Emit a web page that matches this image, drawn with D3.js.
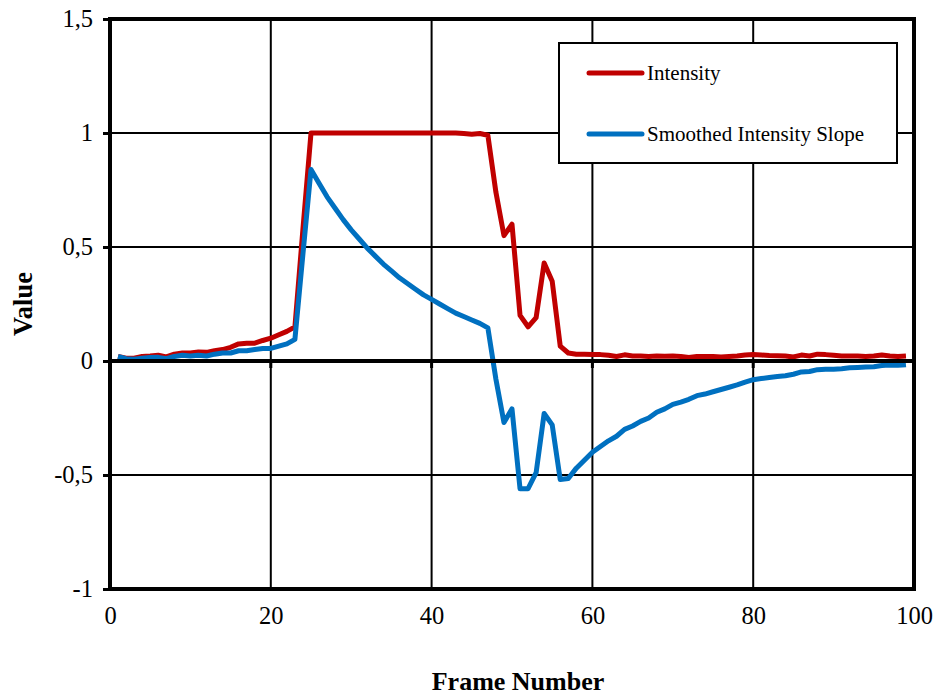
<!DOCTYPE html>
<html><head><meta charset="utf-8">
<script src="https://cdn.jsdelivr.net/npm/d3@7"></script>
<style>body{margin:0;background:#fff}svg{display:block}</style>
</head><body><svg id="c" width="937" height="698"></svg>
<script>
const FONT = '"Liberation Serif", serif';
const frames = d3.range(1, 100);
const intensity = [0.02,0.012,0.012,0.02,0.022,0.025,0.018,0.03,0.035,0.035,
0.04,0.038,0.045,0.05,0.06,0.075,0.078,0.078,0.09,0.1,
0.115,0.13,0.15,0.58,1.0,1.0,1.0,1.0,1.0,1.0,
1.0,1.0,1.0,1.0,1.0,1.0,1.0,1.0,1.0,1.0,
1.0,1.0,1.0,0.998,0.995,0.998,0.99,0.74,0.55,0.60,
0.20,0.15,0.19,0.43,0.35,0.065,0.035,0.03,0.03,0.028,
0.028,0.025,0.02,0.027,0.022,0.022,0.02,0.022,0.021,0.022,
0.02,0.015,0.02,0.02,0.02,0.018,0.02,0.022,0.026,0.028,
0.026,0.024,0.023,0.022,0.018,0.026,0.022,0.03,0.028,0.025,
0.022,0.022,0.022,0.02,0.022,0.026,0.022,0.02,0.022];
const slope = [0.02,0.01,0.008,0.012,0.015,0.016,0.01,0.02,0.025,0.022,
0.025,0.022,0.03,0.035,0.035,0.045,0.045,0.05,0.055,0.055,
0.065,0.075,0.095,0.47,0.84,0.78,0.72,0.67,0.62,0.575,
0.535,0.495,0.46,0.425,0.395,0.365,0.34,0.315,0.29,0.27,
0.25,0.23,0.21,0.195,0.18,0.165,0.145,-0.08,-0.27,-0.21,
-0.56,-0.56,-0.49,-0.23,-0.28,-0.52,-0.515,-0.47,-0.435,-0.40,
-0.375,-0.35,-0.33,-0.30,-0.285,-0.265,-0.25,-0.225,-0.21,-0.19,
-0.18,-0.168,-0.152,-0.145,-0.135,-0.125,-0.115,-0.105,-0.093,-0.082,
-0.077,-0.072,-0.068,-0.065,-0.058,-0.048,-0.046,-0.038,-0.036,-0.036,
-0.034,-0.03,-0.028,-0.026,-0.025,-0.02,-0.018,-0.019,-0.016];
const xTicks = [0,20,40,60,80,100];
const yTicks = [-1,-0.5,0,0.5,1,1.5];
const seriesNames = ["Intensity","Smoothed Intensity Slope"];
const seriesColors = ["#C00000","#0070C0"];

const svg = d3.select("#c");
const L=110,R=914,T=19,B=589;
const x = d3.scaleLinear().domain([0,100]).range([L,R]);
const y = d3.scaleLinear().domain([-1,1.5]).range([B,T]);
const fmt = v => String(v).replace(".", ",");

svg.append("g").selectAll("line").data(xTicks.slice(1,-1)).join("line")
  .attr("x1",d=>x(d)).attr("x2",d=>x(d)).attr("y1",T).attr("y2",B)
  .attr("stroke","#000").attr("stroke-width",2);
svg.append("g").selectAll("line").data(yTicks.filter(d=>d!==0&&d!==-1&&d!==1.5)).join("line")
  .attr("x1",L).attr("x2",R).attr("y1",d=>y(d)).attr("y2",d=>y(d))
  .attr("stroke","#000").attr("stroke-width",2);

const ya = svg.append("g").attr("transform",`translate(${L},0)`)
  .call(d3.axisLeft(y).tickValues(yTicks).tickFormat(fmt).tickSize(7).tickPadding(10));
ya.select(".domain").remove();
ya.selectAll("line").attr("stroke","#000").attr("stroke-width",3);
ya.selectAll("text").style("font-size","24.5px").attr("fill","#000").style("font-family",FONT);

const xa = svg.append("g").attr("transform",`translate(0,${B})`)
  .call(d3.axisBottom(x).tickValues(xTicks).tickSize(0).tickPadding(18));
xa.select(".domain").remove();
xa.selectAll("text").style("font-size","24.5px").attr("fill","#000").style("font-family",FONT);

svg.append("g").selectAll("line").data(xTicks).join("line")
  .attr("x1",d=>x(d)).attr("x2",d=>x(d)).attr("y1",y(0)).attr("y2",y(0)+7)
  .attr("stroke","#000").attr("stroke-width",3);

const line = d3.line().x((d,i)=>x(frames[i])).y(d=>y(d));
[intensity, slope].forEach((s,k)=>{
  svg.append("path").datum(s).attr("d",line).attr("fill","none")
    .attr("stroke",seriesColors[k]).attr("stroke-width",5).attr("stroke-linejoin","round");
});

svg.append("line").attr("x1",L).attr("x2",R).attr("y1",y(0)).attr("y2",y(0))
  .attr("stroke","#000").attr("stroke-width",4);
svg.append("rect").attr("x",L).attr("y",T).attr("width",R-L).attr("height",B-T)
  .attr("fill","none").attr("stroke","#000").attr("stroke-width",4);

const lg = svg.append("g");
lg.append("rect").attr("x",559).attr("y",43).attr("width",338).attr("height",120)
  .attr("fill","#fff").attr("stroke","#000").attr("stroke-width",2);
seriesNames.forEach((n,k)=>{
  const yy = 73 + k*61;
  lg.append("line").attr("x1",589).attr("x2",642).attr("y1",yy).attr("y2",yy)
    .attr("stroke",seriesColors[k]).attr("stroke-width",5).attr("stroke-linecap","round");
  lg.append("text").attr("x",647).attr("y",yy+7).style("font-size","21px").style("font-family",FONT).text(n);
});

svg.append("text").attr("x",518).attr("y",690).attr("text-anchor","middle").style("font-family",FONT)
  .style("font-size","26px").style("font-weight","bold").text("Frame Number");
svg.append("text").attr("transform",`translate(32,${(T+B)/2}) rotate(-90)`).attr("text-anchor","middle").style("font-family",FONT)
  .style("font-size","26.5px").style("font-weight","bold").text("Value");
</script></body></html>
